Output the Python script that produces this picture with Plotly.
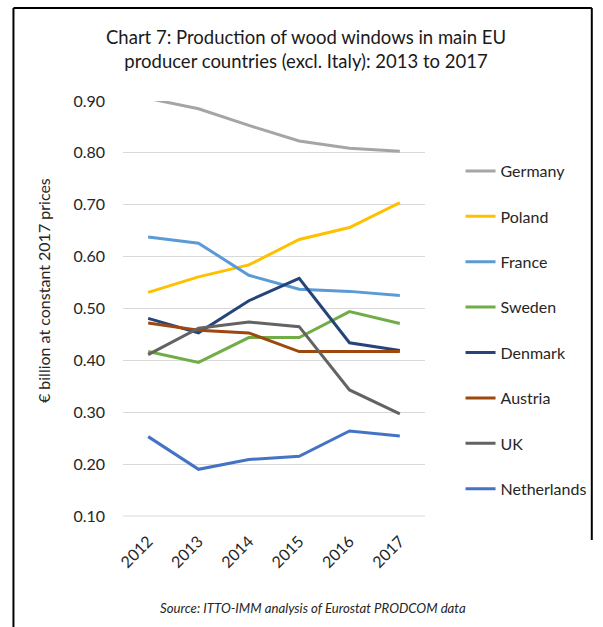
import plotly.graph_objects as go

years = ["2012", "2013", "2014", "2015", "2016", "2017"]

germany = [0.905, 0.885, 0.853, 0.823, 0.809, 0.803]
poland = [0.531, 0.561, 0.584, 0.633, 0.656, 0.704]
france = [0.638, 0.626, 0.564, 0.537, 0.533, 0.525]
sweden = [0.417, 0.396, 0.444, 0.444, 0.494, 0.471]
denmark = [0.481, 0.453, 0.515, 0.558, 0.434, 0.419]
austria = [0.472, 0.458, 0.453, 0.417, 0.417, 0.417]
uk = [0.411, 0.462, 0.474, 0.465, 0.343, 0.297]
netherlands = [0.253, 0.190, 0.209, 0.215, 0.264, 0.254]

series = [
    ("Germany", germany, "#A5A5A5"),
    ("Poland", poland, "#FFC000"),
    ("France", france, "#5B9BD5"),
    ("Sweden", sweden, "#70AD47"),
    ("Denmark", denmark, "#264478"),
    ("Austria", austria, "#9E480E"),
    ("UK", uk, "#636363"),
    ("Netherlands", netherlands, "#4472C4"),
]

W, H = 603, 627
L, R, T, B = 123, 174, 101, 111
PW, PH = W - L - R, H - T - B


def px(x):
    return (x - L) / PW


def py(y):
    return (H - B - y) / PH


FONT = "Lato"
TXT = "#262626"

fig = go.Figure()
for i, (name, vals, col) in enumerate(series):
    fig.add_trace(go.Scatter(
        x=years, y=vals, name=name, mode="lines",
        line=dict(color=col, width=3),
        legendgroup=f"g{i}", cliponaxis=False,
    ))

fig.update_layout(
    width=W, height=H,
    margin=dict(l=L, r=R, t=T, b=B, pad=0),
    paper_bgcolor="white", plot_bgcolor="white",
    font=dict(family=FONT, size=16, color=TXT),
    showlegend=True,
    legend=dict(
        x=px(465), y=py(154), xanchor="left", yanchor="top",
        font=dict(family=FONT, size=16, color=TXT),
        tracegroupgap=21.6, itemwidth=30,
        bgcolor="rgba(0,0,0,0)",
    ),
    xaxis=dict(
        type="category", tickangle=-45, showgrid=False,
        range=[-0.5, 5.5],
        showline=False, ticks="", zeroline=False,
        ticklabelstandoff=12,
        tickfont=dict(family=FONT, size=16, color=TXT),
    ),
    yaxis=dict(
        range=[0.1, 0.9], dtick=0.1, tick0=0.1, tickformat=".2f",
        showgrid=True, gridcolor="#D9D9D9", gridwidth=1,
        zeroline=False, showline=False, ticks="",
        ticklabelstandoff=17,
        tickfont=dict(family=FONT, size=16, color=TXT),
    ),
)

# title
fig.add_annotation(
    text="Chart 7: Production of wood windows in main EU<br>producer countries (excl. Italy): 2013 to 2017",
    xref="paper", yref="paper", x=px(308), y=py(49), xanchor="center", yanchor="middle",
    showarrow=False, font=dict(family=FONT, size=18.5, color="#1a1a1a"),
)

# y-axis title
fig.add_annotation(
    text="€ billion at constant 2017 prices",
    xref="paper", yref="paper", x=px(42), y=py(291), xanchor="center", yanchor="middle",
    textangle=-90, showarrow=False, font=dict(family=FONT, size=16, color=TXT),
)

# source note
fig.add_annotation(
    text="<i>Source: ITTO-IMM analysis of Eurostat PRODCOM data</i>",
    xref="paper", yref="paper", x=px(316), y=py(608), xanchor="center", yanchor="middle",
    showarrow=False, font=dict(family=FONT, size=13.2, color=TXT),
)

# bottom axis line
fig.add_shape(type="line", xref="paper", yref="paper", x0=0, x1=1, y0=0, y1=0,
              line=dict(color="#D9D9D9", width=1), layer="below")

# outer frame
frame = dict(color="black", width=2)
fig.add_shape(type="line", xref="paper", yref="paper", x0=px(12), x1=px(12), y0=py(8), y1=py(627), line=frame)
fig.add_shape(type="line", xref="paper", yref="paper", x0=px(12), x1=px(598), y0=py(8), y1=py(8), line=frame)
fig.add_shape(type="line", xref="paper", yref="paper", x0=px(598), x1=px(598), y0=py(8), y1=py(540), line=frame)

fig.write_html("out.html")
